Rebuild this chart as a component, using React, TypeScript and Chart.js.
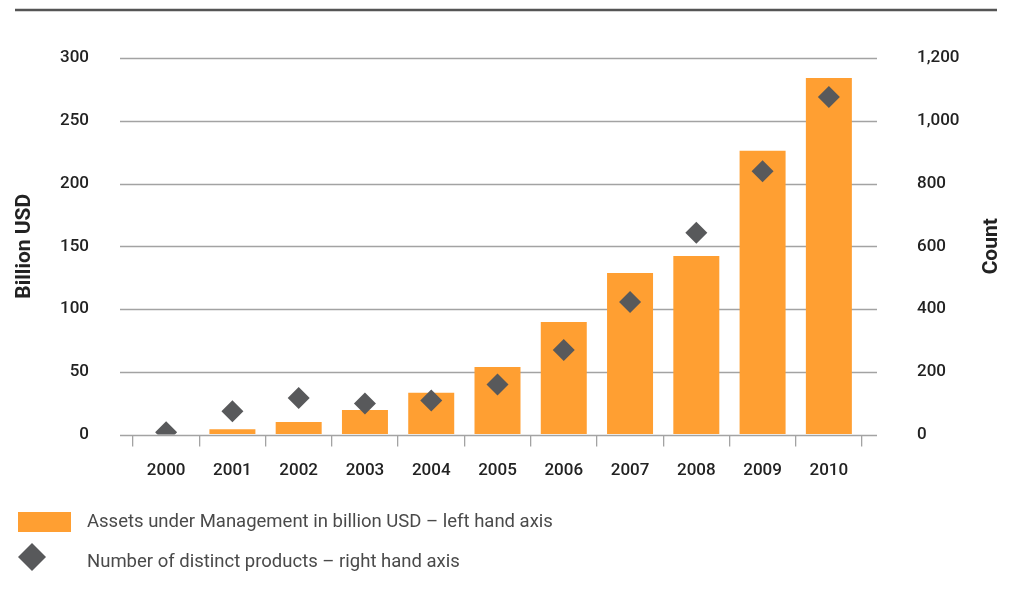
import React, { useEffect, useRef } from 'react';
import { Chart, registerables } from 'chart.js';

Chart.register(...registerables);

// ---- data ----
const years = ['2000', '2001', '2002', '2003', '2004', '2005', '2006', '2007', '2008', '2009', '2010'];
const aumBillionUSD = [0, 4.2, 10, 19.5, 33.2, 53.8, 89.6, 128.7, 142.2, 226, 284];
const distinctProducts = [7, 74, 116, 99, 108, 159, 269, 422, 643, 839, 1076];
const seriesLabels = [
  'Assets under Management in billion USD – left hand axis',
  'Number of distinct products – right hand axis',
];
const axisTitles = ['Billion USD', 'Count'];

// ---- styles ----
const ORANGE = '#FF9F32';
const DIAMOND = '#58595B';
const GRID = '#a3a3a3';
const TEXT = '#222222';
const FONT = 'Roboto';
const W = 1015;
const H = 595;

const decorPlugin = {
  id: 'decor',
  beforeDatasetsDraw(chart: any) {
    const ctx = chart.ctx;
    const ys = chart.scales.y;
    const area = chart.chartArea;
    ctx.save();
    ctx.strokeStyle = GRID;
    ys.ticks.forEach((t: any) => {
      const py = Math.round(ys.getPixelForValue(t.value)) + 0.5;
      ctx.lineWidth = t.value === 0 ? 1.6 : 1.3;
      ctx.beginPath();
      ctx.moveTo(area.left - 13, py);
      ctx.lineTo(area.right + 15, py);
      ctx.stroke();
    });
    ctx.restore();
  },
  afterDraw(chart: any) {
    const ctx = chart.ctx;
    const area = chart.chartArea;
    const midY = (area.top + area.bottom) / 2;
    ctx.save();
    // top rule
    ctx.strokeStyle = '#555555';
    ctx.lineWidth = 2.5;
    ctx.beginPath();
    ctx.moveTo(15, 10);
    ctx.lineTo(997, 10);
    ctx.stroke();

    // axis titles (both read bottom-to-top)
    ctx.fillStyle = TEXT;
    ctx.font = `bold 21px ${FONT}`;
    ctx.textAlign = 'center';
    ctx.textBaseline = 'middle';
    [[25, axisTitles[0]], [992, axisTitles[1]]].forEach(([x, txt]) => {
      ctx.save();
      ctx.translate(x as number, midY);
      ctx.rotate(-Math.PI / 2);
      ctx.fillText(txt as string, 0, 0);
      ctx.restore();
    });

    // legend
    const ds = chart.data.datasets;
    ctx.fillStyle = ds[0].backgroundColor;
    ctx.fillRect(18, 512, 53, 20);
    ctx.fillStyle = ds[1].backgroundColor;
    const cx = 32, cy = 557, r = 14;
    ctx.beginPath();
    ctx.moveTo(cx - r, cy);
    ctx.lineTo(cx, cy - r);
    ctx.lineTo(cx + r, cy);
    ctx.lineTo(cx, cy + r);
    ctx.closePath();
    ctx.fill();

    ctx.fillStyle = '#4a4a4a';
    ctx.font = `400 18.5px ${FONT}`;
    ctx.textAlign = 'left';
    ctx.textBaseline = 'middle';
    ctx.fillText(ds[0].label, 87, 522);
    ctx.fillText(ds[1].label, 87, 562);
    ctx.restore();
  },
};

export default function App() {
  const ref = useRef<HTMLCanvasElement>(null);
  useEffect(() => {
    document.body.style.margin = '0';
    const canvas = ref.current!;
    const tickFont = { family: FONT, size: 17, weight: 500 as any };
    const hiddenGrid = (len: number) => ({
      display: true,
      drawOnChartArea: false,
      drawTicks: true,
      tickLength: len,
      color: 'rgba(0,0,0,0)',
      tickColor: 'rgba(0,0,0,0)',
    });
    const chart = new Chart(canvas, {
      type: 'bar',
      data: {
        labels: years,
        datasets: [
          {
            type: 'bar',
            label: seriesLabels[0],
            data: aumBillionUSD,
            yAxisID: 'y',
            backgroundColor: ORANGE,
            borderWidth: 0,
            categoryPercentage: 1,
            barPercentage: 0.694,
            order: 1,
          } as any,
          {
            type: 'line',
            label: seriesLabels[1],
            data: distinctProducts,
            yAxisID: 'y1',
            showLine: false,
            pointStyle: 'rectRot',
            pointRadius: 11,
            pointHoverRadius: 11,
            backgroundColor: DIAMOND,
            borderColor: DIAMOND,
            pointBorderWidth: 0,
            order: 0,
          } as any,
        ],
      },
      options: {
        responsive: false,
        animation: false,
        layout: { padding: { top: 58, left: 0, right: 0, bottom: 0 } },
        plugins: { legend: { display: false }, tooltip: { enabled: false } },
        scales: {
          x: {
            offset: true,
            grid: {
              offset: true,
              drawOnChartArea: false,
              drawTicks: true,
              tickLength: 12,
              color: GRID,
              tickColor: GRID,
              lineWidth: 1.3,
            },
            border: { display: false },
            ticks: { color: TEXT, font: tickFont, padding: 14, maxRotation: 0 },
            afterFit: (s: any) => { s.height = H - 434.5; },
          },
          y: {
            position: 'left',
            min: 0,
            max: 300,
            grid: hiddenGrid(40) as any,
            border: { display: false },
            ticks: { stepSize: 50, color: TEXT, font: tickFont, padding: 4 },
            afterFit: (s: any) => { s.width = 133; },
          },
          y1: {
            position: 'right',
            min: 0,
            max: 1200,
            grid: hiddenGrid(50) as any,
            border: { display: false },
            ticks: {
              stepSize: 200,
              color: TEXT,
              font: tickFont,
              padding: 5,
              callback: (v: any) => Number(v).toLocaleString('en-US'),
            },
            afterFit: (s: any) => { s.width = W - 862; },
          },
        },
      },
      plugins: [decorPlugin],
    });
    return () => chart.destroy();
  }, []);
  return (
    <div style={{ width: W, height: H, background: '#fff' }}>
      <canvas ref={ref} width={W} height={H} style={{ display: 'block' }} />
    </div>
  );
}
